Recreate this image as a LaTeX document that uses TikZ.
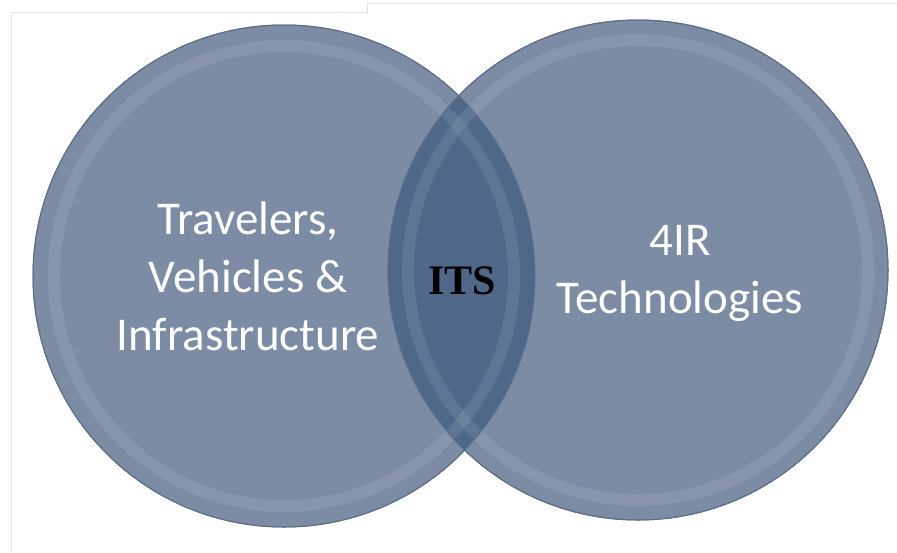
\documentclass[tikz,border=0pt]{standalone}
\usepackage{fontspec}
\setmainfont{Carlito}
\newfontfamily\itsfont{Liberation Serif}
\usetikzlibrary{calc}

\definecolor{slate}{HTML}{7C8CA4}
\definecolor{slatedark}{HTML}{4F6889}
\definecolor{slateedge}{HTML}{5E6E86}
\definecolor{framegray}{HTML}{E2E2E2}

\tikzset{
  disc/.style={draw=slateedge,shape=circle,fill=slate,inner sep=0pt,line width=1pt},
  bevel/.style={white,opacity=0.09,line width=12pt},
  label/.style={text=white,align=center,font=\fontsize{47}{58}\selectfont}
}

\begin{document}
\begin{tikzpicture}[x=1pt,y=-1pt]
\useasboundingbox (0,0) rectangle (897,552);

% page frame
\draw[framegray, line width=0.8pt] (11,552) -- (11,12) -- (367,12) -- (367,3) -- (897,3);

\node[disc,minimum size=502pt] (0) at (284, 276) {};
\node[disc,minimum size=500pt] (1) at (638, 270) {};

% overlap
\begin{scope}
\clip (0.center) circle (251pt);
\fill[slatedark] (1.center) circle (250pt);
\end{scope}

\draw[bevel] (0.center) circle (230pt);
\draw[bevel] (1.center) circle (230pt);
\draw[slateedge, line width=1pt] (0.center) circle (251pt);
\draw[slateedge, line width=1pt] (1.center) circle (250pt);

\node[label] (2) at (248, 276) {Travelers,\\Vehicles \&\\Infrastructure};
\node[label] (3) at (680, 273) {4IR\\Technologies};
\node[font=\itsfont\bfseries\fontsize{42}{50}\selectfont] (4) at (462, 281) {ITS};
\end{tikzpicture}
\end{document}
